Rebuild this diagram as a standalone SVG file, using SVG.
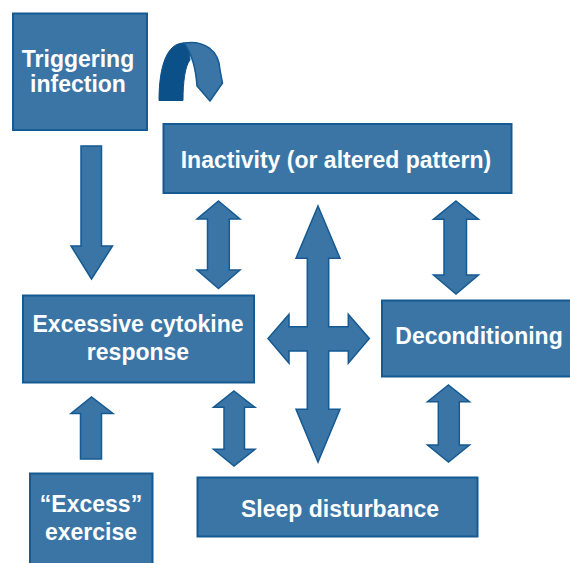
<svg xmlns="http://www.w3.org/2000/svg" width="570" height="563" viewBox="0 0 570 563">
<style>
.box{fill:#3a75a5;stroke:#155a92;stroke-width:2}
.arr{fill:#3a75a5;stroke:#155a92;stroke-width:1.5;stroke-linejoin:miter}
.t{font-family:"Liberation Sans",Arial,sans-serif;font-weight:bold;font-size:23px;fill:#ffffff;text-anchor:middle}
</style>
<rect width="570" height="563" fill="#ffffff"/>
<g id="triggering">
<rect class="box" x="13" y="13.5" width="134" height="116.5"/>
<text class="t" x="78" y="66.5">Triggering</text>
<text class="t" x="78" y="92">infection</text>
</g>
<g id="inactivity">
<rect class="box" x="163.5" y="124" width="348" height="69"/>
<text class="t" x="336" y="168">Inactivity (or altered pattern)</text>
</g>
<g id="cytokine">
<rect class="box" x="23" y="295.5" width="231" height="87"/>
<text class="t" x="138" y="331.5">Excessive cytokine</text>
<text class="t" x="138" y="360">response</text>
</g>
<g id="deconditioning">
<rect class="box" x="382" y="300.5" width="194" height="76"/>
<text class="t" x="479" y="344">Deconditioning</text>
</g>
<g id="excess">
<rect class="box" x="30" y="473.5" width="122.5" height="100"/>
<text class="t" x="91" y="512">“Excess”</text>
<text class="t" x="91" y="540">exercise</text>
</g>
<g id="sleep">
<rect class="box" x="197.5" y="477.5" width="280" height="59"/>
<text class="t" x="340" y="516.5">Sleep disturbance</text>
</g>
<g id="connectors">
<path d="M159,100.5 C159,66 167,43 184,43 C188,48 190,54 190,60 C185,66 183,82 183,100.5 Z" fill="#0b5088" stroke="#0b5088" stroke-width="1"/>
<path d="M184,43 C204,40 219,50 220,70 L222.5,83 L210,101 L197,86 C196,70 192,54 184,43 Z" fill="#3a75a5" stroke="#155a92" stroke-width="1.5"/>
<polygon class="arr" points="81,146 101.5,146 101.5,246 112.5,246 91.5,279 71,246 81,246"/>
<polygon class="arr" points="80.5,459 101.5,459 101.5,413.5 113,413.5 91.5,397 71,413.5 80.5,413.5"/>
<polygon class="arr" points="218.5,201 240,219 229.3,219 229.3,270 240,270 218.5,288.5 197,270 207.5,270 207.5,219 197,219"/>
<polygon class="arr" points="234,391 255,407.3 244.5,407.3 244.5,449.3 255,449.3 234,466 213.5,449.3 224,449.3 224,407.3 213.5,407.3"/>
<polygon class="arr" points="456,201 478.5,219.3 466.5,219.3 466.5,275 478.5,275 456,294 433.5,275 444,275 444,219.3 433.5,219.3"/>
<polygon class="arr" points="448.5,385 469.5,401.7 459.3,401.7 459.3,445 469.5,445 448.5,462 427.5,445 438.3,445 438.3,401.7 427.5,401.7"/>
<polygon class="arr" points="318,206 340,258.3 328.7,258.3 328.7,326.7 348.3,326.7 348.3,314.3 369.3,338.5 348.3,363.3 348.3,351 328.7,351 328.7,409.3 340,409.3 318,462 296,409.3 307.3,409.3 307.3,351 289,351 289,363.3 268,338.5 289,314.3 289,326.7 307.3,326.7 307.3,258.3 296,258.3"/>
</g>
</svg>
